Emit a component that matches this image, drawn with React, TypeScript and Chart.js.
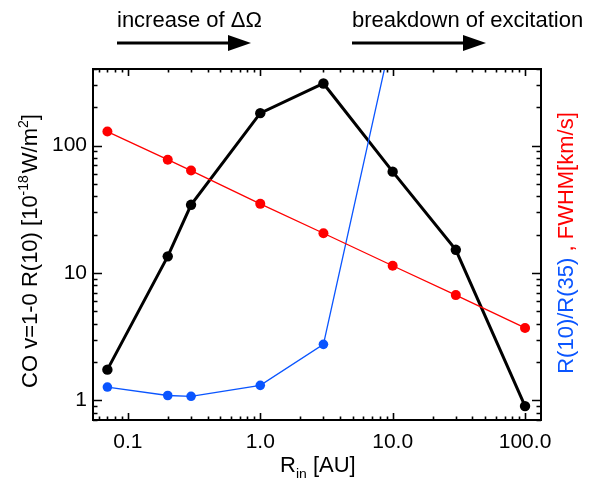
import React, { useEffect, useRef } from "react";
import { Chart, registerables } from "chart.js";

Chart.register(...registerables);

// ---- data ----
const radiiAU = [0.07, 0.2, 0.3, 1.0, 3.0, 10, 30, 100];
const coFlux = [1.74, 13.5, 34.3, 180, 308, 62.5, 15.2, 0.9];
const fwhm = [129, 77.6, 63.7, 34.9, 20.5, 11.4, 6.7, 3.7];
const ratio = [1.27, 1.09, 1.075, 1.31, 2.75, 780, null, null];

const xTickValues = [0.1, 1, 10, 100];
const xTickLabels = ["0.1", "1.0", "10.0", "100.0"];
const yTickValues = [1, 10, 100];
const yTickLabels = ["1", "10", "100"];

const X_MIN = 0.0545;
const X_MAX = 132;
const Y_MIN = 0.7;
const Y_MAX = 400;

const FONT = '"Liberation Sans", Arial, Helvetica, sans-serif';
const BLUE = "#0a55ff";
const RED = "#ff0000";

type Seg = { t: string; size: number; color: string; dy?: number; gap?: number };

function drawRich(ctx: CanvasRenderingContext2D, segs: Seg[], x: number, y: number, angle: number, align: "center" | "left") {
  ctx.save();
  ctx.translate(x, y);
  ctx.rotate(angle);
  ctx.textBaseline = "alphabetic";
  ctx.textAlign = "left";
  const widths = segs.map((s) => {
    ctx.font = `${s.size}px ${FONT}`;
    return ctx.measureText(s.t).width + (s.gap || 0);
  });
  const total = widths.reduce((a, b) => a + b, 0);
  let cx = align === "center" ? -total / 2 : 0;
  segs.forEach((s, i) => {
    ctx.font = `${s.size}px ${FONT}`;
    ctx.fillStyle = s.color;
    ctx.fillText(s.t, cx, s.dy || 0);
    cx += widths[i];
  });
  ctx.restore();
}

function drawArrow(ctx: CanvasRenderingContext2D, x0: number, x1: number, y: number) {
  const headLen = 23;
  const half = 8;
  ctx.save();
  ctx.strokeStyle = "#000";
  ctx.fillStyle = "#000";
  ctx.lineWidth = 3;
  ctx.beginPath();
  ctx.moveTo(x0, y);
  ctx.lineTo(x1 - headLen + 1, y);
  ctx.stroke();
  ctx.beginPath();
  ctx.moveTo(x1, y);
  ctx.lineTo(x1 - headLen, y - half);
  ctx.lineTo(x1 - headLen, y + half);
  ctx.closePath();
  ctx.fill();
  ctx.restore();
}

function logTicks(min: number, max: number) {
  const out: { v: number; major: boolean }[] = [];
  for (let e = Math.floor(Math.log10(min)); e <= Math.ceil(Math.log10(max)); e++) {
    for (let m = 1; m <= 9; m++) {
      const v = m * Math.pow(10, e);
      if (v >= min && v <= max) out.push({ v, major: m === 1 });
    }
  }
  return out;
}

const framePlugin = {
  id: "idlFrame",
  afterDatasetsDraw(chart: any) {
    const { ctx, chartArea: a, scales } = chart;
    const xs = scales.x;
    const ys = scales.y;
    ctx.save();
    ctx.strokeStyle = "#000";
    ctx.lineWidth = 1.6;
    ctx.beginPath();
    logTicks(X_MIN, X_MAX).forEach(({ v, major }) => {
      const px = Math.round(xs.getPixelForValue(v)) + 0.5;
      const len = major ? 7 : 3.5;
      ctx.moveTo(px, a.bottom);
      ctx.lineTo(px, a.bottom - len);
      ctx.moveTo(px, a.top);
      ctx.lineTo(px, a.top + len);
    });
    logTicks(Y_MIN, Y_MAX).forEach(({ v, major }) => {
      const py = Math.round(ys.getPixelForValue(v)) + 0.5;
      const len = major ? 9 : 4.5;
      ctx.moveTo(a.left, py);
      ctx.lineTo(a.left + len, py);
      ctx.moveTo(a.right, py);
      ctx.lineTo(a.right - len, py);
    });
    ctx.stroke();
    ctx.lineWidth = 2;
    ctx.strokeRect(a.left, a.top, a.right - a.left, a.bottom - a.top);
    ctx.restore();
  },
  afterDraw(chart: any) {
    const ctx: CanvasRenderingContext2D = chart.ctx;
    // top annotations
    drawRich(ctx, [{ t: "increase of \u0394\u03A9", size: 22, color: "#000" }], 117, 27, 0, "left");
    drawArrow(ctx, 117, 251, 43);
    drawRich(ctx, [{ t: "breakdown of excitation", size: 22, color: "#000" }], 352, 27, 0, "left");
    drawArrow(ctx, 352, 486, 43);
    // left title
    drawRich(
      ctx,
      [
        { t: "CO v=1-0 R(10) [10", size: 22, color: "#000" },
        { t: "-18", size: 14, color: "#000", dy: -9, gap: 2 },
        { t: "W/m", size: 22, color: "#000" },
        { t: "2", size: 14, color: "#000", dy: -9 },
        { t: "]", size: 22, color: "#000" },
      ],
      37,
      251,
      -Math.PI / 2,
      "center"
    );
    // right title
    drawRich(
      ctx,
      [
        { t: "R(10)/R(35)", size: 22, color: BLUE },
        { t: " , ", size: 22, color: RED },
        { t: "FWHM[km/s]", size: 22, color: RED },
      ],
      573,
      243,
      -Math.PI / 2,
      "center"
    );
    // x title
    drawRich(
      ctx,
      [
        { t: "R", size: 22, color: "#000" },
        { t: "in", size: 14, color: "#000", dy: 7 },
        { t: " [AU]", size: 22, color: "#000" },
      ],
      280,
      472,
      0,
      "left"
    );
  },
};

export default function App() {
  const ref = useRef<HTMLCanvasElement | null>(null);

  useEffect(() => {
    if (!ref.current) return;
    const mk = (data: (number | null)[], color: string, width: number, radius: number) => ({
      data: radiiAU.map((x, i) => ({ x, y: data[i] })),
      borderColor: color,
      backgroundColor: color,
      borderWidth: width,
      pointRadius: radius,
      pointBorderWidth: 0,
      pointBackgroundColor: color,
      pointHoverRadius: radius,
      spanGaps: false,
      tension: 0,
    });
    const chart = new Chart(ref.current, {
      type: "line",
      data: {
        datasets: [
          mk(fwhm, RED, 1.3, 5),
          mk(ratio, BLUE, 1.3, 4.8),
          mk(coFlux, "#000", 3, 5.2),
        ] as any,
      },
      plugins: [framePlugin],
      options: {
        responsive: false,
        animation: false,
        events: [],
        layout: { padding: { top: 69, right: 71, bottom: 0, left: 0 } },
        plugins: { legend: { display: false }, tooltip: { enabled: false } },
        scales: {
          x: {
            type: "logarithmic",
            min: X_MIN,
            max: X_MAX,
            grid: { display: false, drawTicks: false },
            border: { display: false },
            afterFit: (s: any) => {
              s.height = 58;
            },
            afterBuildTicks: (s: any) => {
              s.ticks = xTickValues.map((v) => ({ value: v }));
            },
            ticks: {
              autoSkip: false,
              maxRotation: 0,
              padding: 10,
              color: "#000",
              font: { family: FONT, size: 21 },
              callback: (_v: any, i: number) => xTickLabels[i],
            },
          },
          y: {
            type: "logarithmic",
            min: Y_MIN,
            max: Y_MAX,
            grid: { display: false, drawTicks: false },
            border: { display: false },
            afterFit: (s: any) => {
              s.width = 93;
            },
            afterBuildTicks: (s: any) => {
              s.ticks = yTickValues.map((v) => ({ value: v }));
            },
            ticks: {
              autoSkip: false,
              padding: 6,
              color: "#000",
              font: { family: FONT, size: 21 },
              callback: (_v: any, i: number) => yTickLabels[i],
            },
          },
        },
      } as any,
    });
    return () => chart.destroy();
  }, []);

  return (
    <div style={{ position: "fixed", left: 0, top: 0, width: 612, height: 478, background: "#fff" }}>
      <canvas ref={ref} width={612} height={478} style={{ display: "block", width: 612, height: 478 }} />
    </div>
  );
}
